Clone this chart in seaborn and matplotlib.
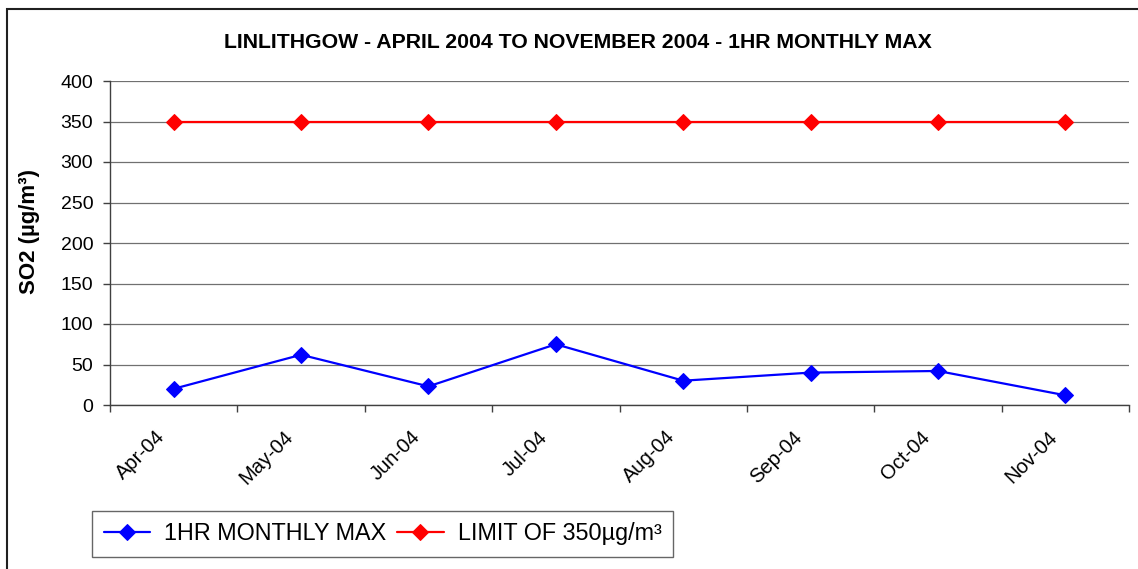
import pandas as pd
import matplotlib
matplotlib.use("Agg")
import matplotlib.pyplot as plt
import seaborn as sns
from matplotlib.patches import Rectangle
from matplotlib.ticker import FixedLocator, NullFormatter
from matplotlib.transforms import ScaledTranslation

# data
months = ['Apr-04', 'May-04', 'Jun-04', 'Jul-04', 'Aug-04', 'Sep-04', 'Oct-04', 'Nov-04']
monthly_max = [20, 62, 23, 75, 30, 40, 42, 12]
limit_350 = [350, 350, 350, 350, 350, 350, 350, 350]
y_ticks = [0, 50, 100, 150, 200, 250, 300, 350, 400]

sns.set_style('white')
plt.rcParams['font.family'] = ['Liberation Sans', 'DejaVu Sans']
plt.rcParams['text.color'] = 'black'
plt.rcParams['xtick.color'] = 'black'
plt.rcParams['ytick.color'] = 'black'

W, H = 1138, 569
fig = plt.figure(figsize=(W / 100, H / 100), dpi=100)
ax = fig.add_axes([110 / W, 1 - 405 / H, (1129 - 110) / W, (405 - 81) / H])

df_max = pd.DataFrame({'month': months, 'value': monthly_max})
df_lim = pd.DataFrame({'month': months, 'value': limit_350})

sns.lineplot(data=df_max, x='month', y='value', color='#0000ff', marker='D', markersize=8,
             markeredgecolor='#0000ff', linewidth=1.6, sort=False, ax=ax, label='1HR MONTHLY MAX')
sns.lineplot(data=df_lim, x='month', y='value', color='#ff0000', marker='D', markersize=8,
             markeredgecolor='#ff0000', linewidth=1.6, sort=False, ax=ax, label='LIMIT OF 350µg/m³')

ax.set_xlim(-0.5, len(months) - 0.5)
ax.set_ylim(0, 400)
ax.set_yticks(y_ticks)
ax.yaxis.grid(True, color='#707070', linewidth=0.9)
ax.set_axisbelow(True)
for s in ['top', 'right']:
    ax.spines[s].set_visible(False)
for s in ['left', 'bottom']:
    ax.spines[s].set_color('#404040')
    ax.spines[s].set_linewidth(1.0)

# tick marks sit between the categories, labels at the centres
ax.xaxis.set_minor_locator(FixedLocator([i - 0.5 for i in range(len(months) + 1)]))
ax.xaxis.set_minor_formatter(NullFormatter())
ax.tick_params(axis='x', which='minor', length=5, width=1, color='#404040', bottom=True)
ax.tick_params(axis='x', which='major', length=0, pad=16, labelsize=14.5)
ax.tick_params(axis='y', length=5, width=1, color='#404040', labelsize=14, left=True, pad=7)
shift = ScaledTranslation(-0.18, 0, fig.dpi_scale_trans)
for lab in ax.get_xticklabels():
    lab.set_rotation(45)
    lab.set_ha('right')
    lab.set_va('top')
    lab.set_rotation_mode('anchor')
    lab.set_transform(lab.get_transform() + shift)

ax.set_xlabel('')
ax.set_ylabel('')
ax.get_legend().remove()

fig.text(578 / W, 1 - 42 / H, 'LINLITHGOW - APRIL 2004 TO NOVEMBER 2004 - 1HR MONTHLY MAX',
         ha='center', va='center', fontsize=15.3, fontweight='bold')
fig.text(30 / W, 1 - 231 / H, 'SO2 (µg/m³)', rotation=90, ha='center', va='center',
         fontsize=16, fontweight='bold')

handles, labels = ax.get_legend_handles_labels()
leg = fig.legend(handles, labels, loc='lower left', bbox_to_anchor=(92 / W, 1 - 557 / H),
                 ncol=2, frameon=True, fancybox=False, fontsize=16.8, handlelength=2.0,
                 handletextpad=0.6, columnspacing=0.45, borderpad=0.5, borderaxespad=0)
leg.get_frame().set_edgecolor('#404040')
leg.get_frame().set_linewidth(1.0)

# outer chart border
fig.patches.append(Rectangle((7 / W, -0.1), 1.2, 1 - 9 / H + 0.1, transform=fig.transFigure,
                             fill=False, edgecolor='#202020', linewidth=1.5))

fig.savefig('out.png', dpi=100)
